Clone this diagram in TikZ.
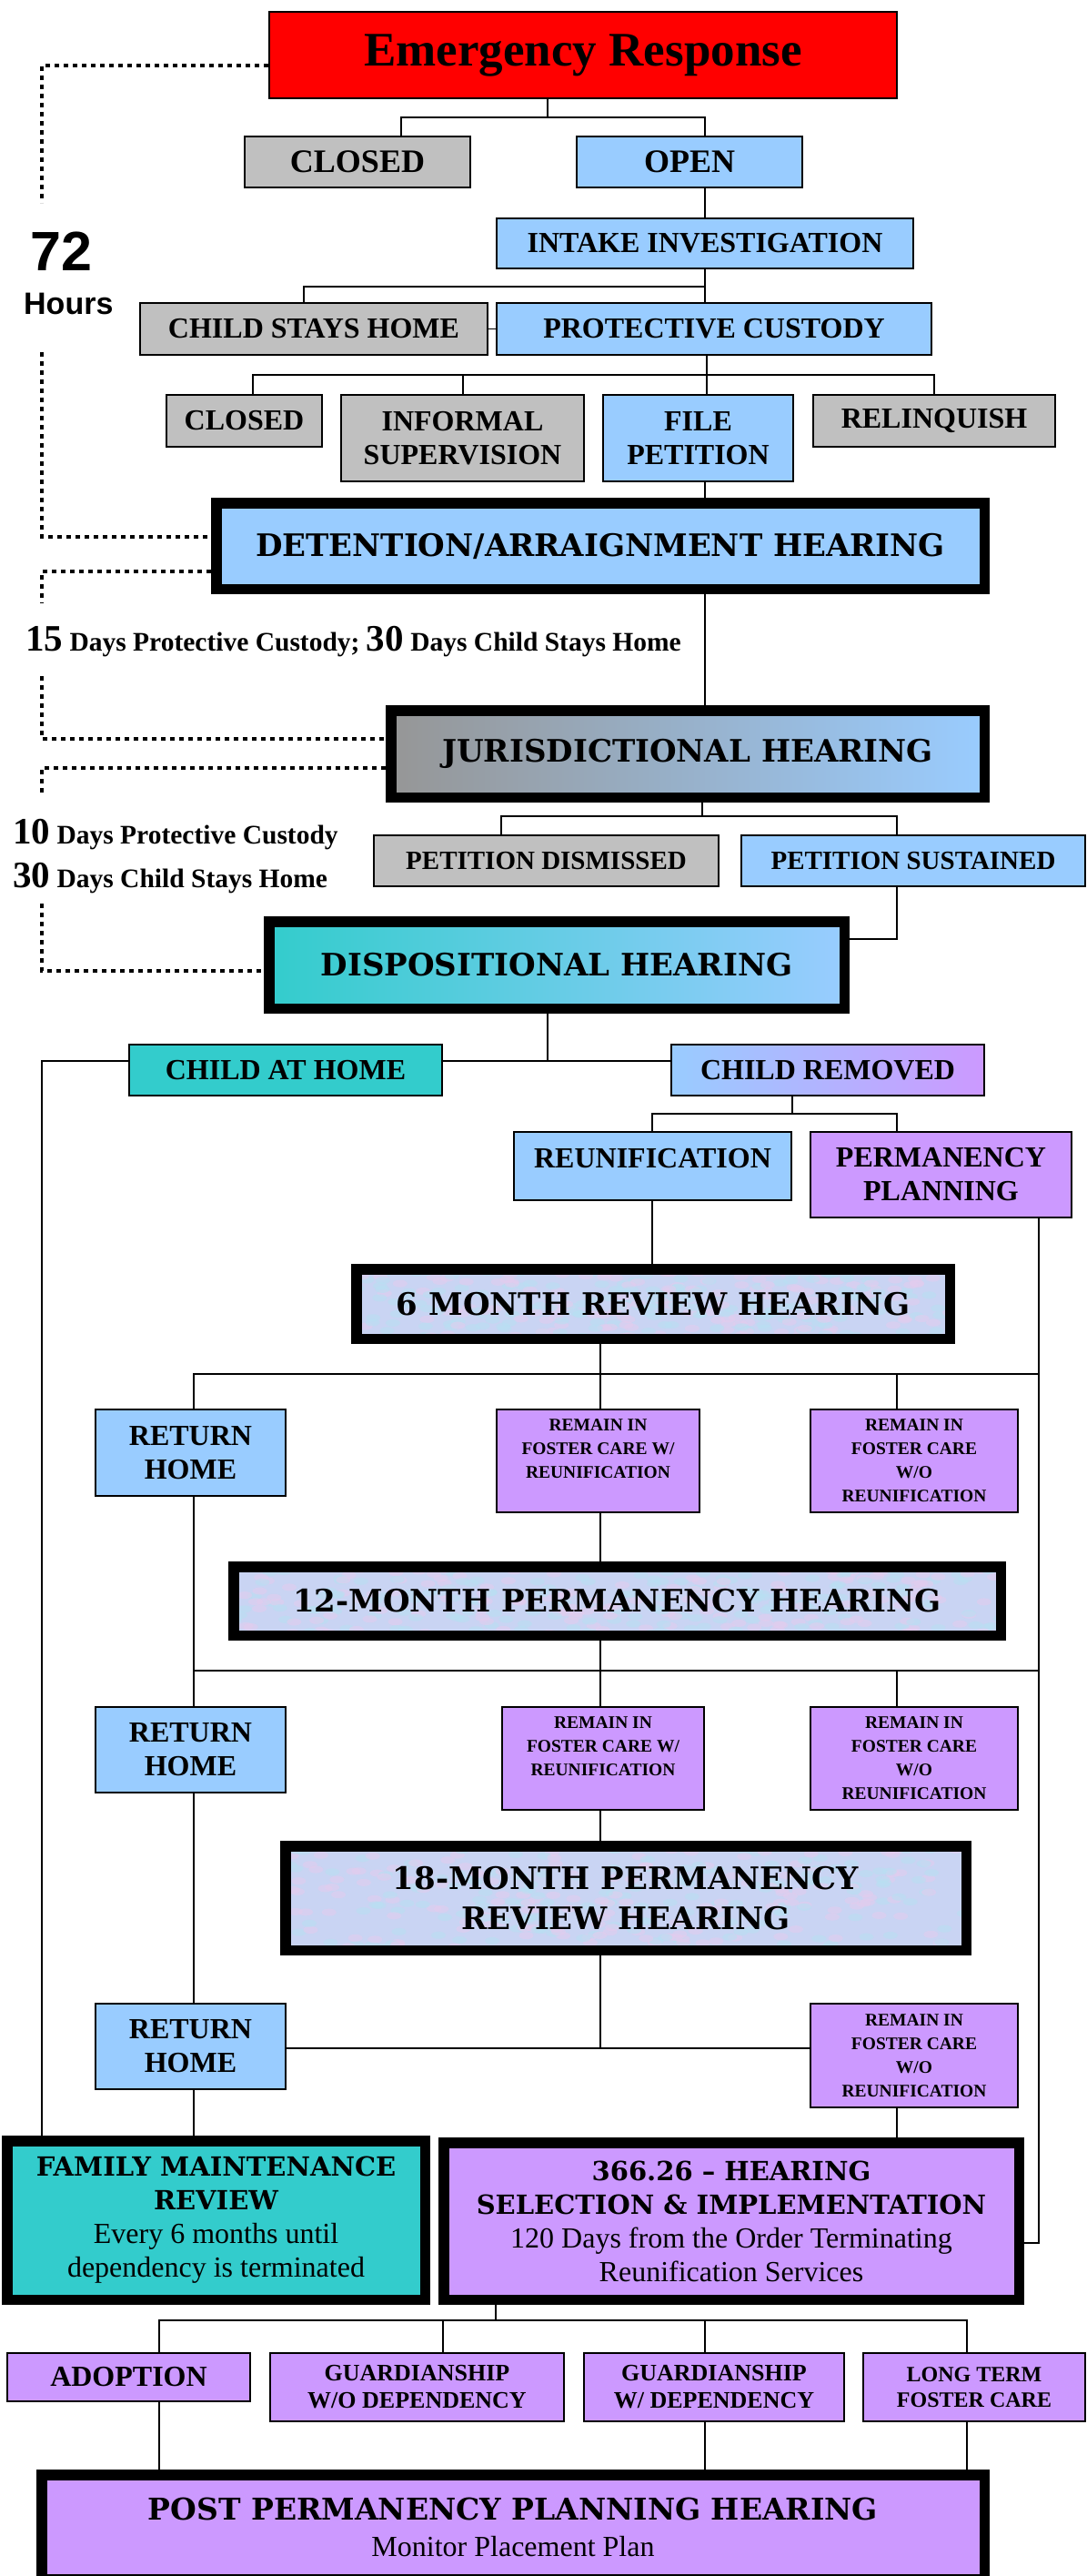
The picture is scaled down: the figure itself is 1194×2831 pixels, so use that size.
\documentclass[tikz,border=0pt]{standalone}
\usepackage{fontspec}
\setmainfont{Liberation Serif}
\newfontfamily\hfont{DejaVu Serif}
\newfontfamily\afont{Liberation Sans}
\usetikzlibrary{backgrounds}
\definecolor{cred}{HTML}{FF0000}
\definecolor{cgray}{HTML}{C0C0C0}
\definecolor{cblue}{HTML}{99CCFF}
\definecolor{cpurp}{HTML}{CC99FF}
\definecolor{cteal}{HTML}{33CCCC}
\definecolor{cdgray}{HTML}{969696}
\definecolor{cmot}{HTML}{C9D4F3}
\definecolor{cpink}{HTML}{E4CCEE}
\definecolor{ccyan}{HTML}{B8E0F2}
\newcommand\fs[2]{\fontsize{#1}{#2}\selectfont}
\tikzset{
  thinbox/.style={draw=black, line width=1.6pt, inner sep=0pt, align=center, font=\bfseries\fs{32}{37}},
  thickbox/.style={draw=black, line width=11.5pt, inner sep=0pt, align=center, font=\hfont\bfseries\fs{34}{44}},
  conn/.style={line width=1.5pt, black},
  dotl/.style={line width=4pt, dash pattern=on 5pt off 5pt, black},
  smalltxt/.style={font=\bfseries\fs{19.5}{26}},
  lbl/.style={inner sep=0pt, anchor=base west}
}
% name, extra style, x1, y1, x2, y2, text
\newcommand\sbx[7]{%
  \pgfmathsetmacro\bxcx{(#3+#5)/2}%
  \pgfmathsetmacro\bxcy{(#4+#6)/2}%
  \pgfmathsetmacro\bxw{#5-#3-1.6}%
  \pgfmathsetmacro\bxh{#6-#4-1.6}%
  \node[thinbox,#2,minimum width=\bxw pt,minimum height=\bxh pt] (#1) at (\bxcx,\bxcy) {#7};}
\newcommand\hbx[7]{%
  \pgfmathsetmacro\bxcx{(#3+#5)/2}%
  \pgfmathsetmacro\bxcy{(#4+#6)/2}%
  \pgfmathsetmacro\bxw{#5-#3-11.5}%
  \pgfmathsetmacro\bxh{#6-#4-11.5}%
  \node[thickbox,#2,minimum width=\bxw pt,minimum height=\bxh pt] (#1) at (\bxcx,\bxcy) {#7};}
\newcommand\mottle[5]{%
  \begin{scope}
  \clip (#1,#2) rectangle (#3,#4);
  \fill[cmot] (#1,#2) rectangle (#3,#4);
  \pgfmathsetseed{#5}%
  \foreach \i in {1,...,320}{%
    \pgfmathsetmacro\mx{#1+rnd*(#3-#1)}%
    \pgfmathsetmacro\my{#2+rnd*(#4-#2)}%
    \pgfmathsetmacro\mc{rnd}%
    \ifdim\mc pt<0.5pt
      \fill[cpink,opacity=0.55] (\mx,\my) ellipse (8pt and 4pt);
    \else
      \fill[ccyan,opacity=0.55] (\mx,\my) ellipse (8pt and 4pt);
    \fi}
  \end{scope}}
\begin{document}
\begin{tikzpicture}[x=1pt,y=-1pt]
\useasboundingbox (0,0) rectangle (1194,2831);
\begin{pgfonlayer}{background}
\fill[white] (0,0) rectangle (1194,2831);
\end{pgfonlayer}

% ---- boxes ----
\sbx{er}{fill=cred,font=\bfseries\fs{53}{60}}{295}{12}{987}{109}{Emergency Response}
\sbx{closedA}{fill=cgray,font=\bfseries\fs{36}{40}}{268}{149}{518}{207}{CLOSED}
\sbx{open}{fill=cblue,font=\bfseries\fs{36}{40}}{633}{149}{883}{207}{OPEN}
\sbx{intake}{fill=cblue}{545}{239}{1005}{296}{INTAKE INVESTIGATION}
\sbx{csh}{fill=cgray}{153}{332}{537}{391}{CHILD STAYS HOME}
\sbx{pc}{fill=cblue}{545}{332}{1025}{391}{PROTECTIVE CUSTODY}
\sbx{closedB}{fill=cgray}{182}{433}{355}{492}{CLOSED}
\sbx{inf}{fill=cgray}{374}{433}{643}{530}{INFORMAL\\SUPERVISION}
\sbx{fp}{fill=cblue}{662}{433}{873}{530}{FILE\\PETITION}
\sbx{rel}{fill=cgray}{893}{433}{1161}{492}{RELINQUISH}
\hbx{det}{fill=cblue}{232}{547}{1088}{653}{DETENTION/ARRAIGNMENT HEARING}
\hbx{jh}{left color=cdgray,right color=cblue}{424}{775}{1088}{882}{JURISDICTIONAL HEARING}
\sbx{pd}{fill=cgray,font=\bfseries\fs{29}{34}}{410}{917}{791}{975}{PETITION DISMISSED}
\sbx{ps}{fill=cblue,font=\bfseries\fs{29}{34}}{814}{917}{1194}{975}{PETITION SUSTAINED}
\hbx{dh}{left color=cteal,right color=cblue}{290}{1007}{934}{1114}{DISPOSITIONAL HEARING}
\sbx{cah}{fill=cteal}{141}{1147}{487}{1205}{CHILD AT HOME}
\sbx{cr}{left color=cblue,right color=cpurp}{737}{1147}{1083}{1205}{CHILD REMOVED}
\sbx{reun}{fill=cblue,text depth=18pt}{564}{1243}{871}{1320}{REUNIFICATION}
\sbx{pp}{fill=cpurp}{890}{1243}{1179}{1339}{PERMANENCY\\PLANNING}
\mottle{392}{1395}{1044}{1471}{3}
\hbx{m6}{}{386}{1389}{1050}{1477}{6 MONTH REVIEW HEARING}
\sbx{rh1}{fill=cblue}{104}{1548}{315}{1645}{RETURN\\HOME}
\sbx{rw1}{fill=cpurp,smalltxt}{545}{1548}{770}{1663}{REMAIN IN\\FOSTER CARE W/\\REUNIFICATION\\\mbox{}}
\sbx{rwo1}{fill=cpurp,smalltxt}{890}{1548}{1120}{1663}{REMAIN IN\\FOSTER CARE\\W/O\\REUNIFICATION}
\mottle{257}{1722}{1100}{1797}{5}
\hbx{m12}{}{251}{1716}{1106}{1803}{12-MONTH PERMANENCY HEARING}
\sbx{rh2}{fill=cblue}{104}{1875}{315}{1971}{RETURN\\HOME}
\sbx{rw2}{fill=cpurp,smalltxt}{551}{1875}{775}{1990}{REMAIN IN\\FOSTER CARE W/\\REUNIFICATION\\\mbox{}}
\sbx{rwo2}{fill=cpurp,smalltxt}{890}{1875}{1120}{1990}{REMAIN IN\\FOSTER CARE\\W/O\\REUNIFICATION}
\mottle{314}{2029}{1062}{2143}{9}
\hbx{m18}{}{308}{2023}{1068}{2149}{18-MONTH PERMANENCY\\REVIEW HEARING}
\sbx{rh3}{fill=cblue}{104}{2201}{315}{2297}{RETURN\\HOME}
\sbx{rwo3}{fill=cpurp,smalltxt}{890}{2201}{1120}{2317}{REMAIN IN\\FOSTER CARE\\W/O\\REUNIFICATION}
\hbx{fm}{fill=cteal,font=\hfont\bfseries\fs{29}{37}}{2}{2347}{473}{2533}{FAMILY MAINTENANCE\\REVIEW\\{\normalfont\fs{32}{37}Every 6 months until}\\{\normalfont\fs{32}{37}dependency is terminated}}
\hbx{h366}{fill=cpurp,font=\hfont\bfseries\fs{29}{37}}{482}{2349}{1126}{2533}{366.26 – HEARING\\SELECTION \& IMPLEMENTATION\\{\normalfont\fs{32}{37}120 Days from the Order Terminating}\\{\normalfont\fs{32}{37}Reunification Services}}
\sbx{adopt}{fill=cpurp}{7}{2585}{276}{2640}{ADOPTION}
\sbx{gwo}{fill=cpurp,font=\bfseries\fs{26}{30}}{296}{2585}{621}{2662}{GUARDIANSHIP\\W/O DEPENDENCY}
\sbx{gw}{fill=cpurp,font=\bfseries\fs{26}{30}}{641}{2585}{929}{2662}{GUARDIANSHIP\\W/ DEPENDENCY}
\sbx{ltfc}{fill=cpurp,font=\bfseries\fs{24}{28}}{948}{2585}{1194}{2662}{LONG TERM\\FOSTER CARE}
\hbx{post}{fill=cpurp,font=\hfont\bfseries\fs{33}{40}}{40}{2714}{1088}{2840}{POST PERMANENCY PLANNING HEARING\\{\normalfont\fs{32}{40}Monitor Placement Plan}}

% ---- connectors ----
\begin{pgfonlayer}{background}
\coordinate (b1) at (602,129); \coordinate (b1l) at (441,129); \coordinate (b1r) at (775,129);
\draw[conn] (b1 |- er.south) -- (b1);
\draw[conn] (b1l |- closedA.north) -- (b1l) -- (b1r) -- (b1r |- open.north);
\draw[conn] (b1r |- open.south) -- (b1r |- intake.north);
\coordinate (b2) at (775,315); \coordinate (b2l) at (334,315);
\draw[conn] (b2 |- intake.south) -- (b2) -- (b2l) -- (b2l |- csh.north);
\draw[conn] (b2) -- (b2 |- pc.north);
\draw[conn] (csh.east) -- (pc.west);
\coordinate (b3) at (777,412); \coordinate (b3a) at (278,412); \coordinate (b3b) at (509,412); \coordinate (b3d) at (1027,412);
\draw[conn] (b3 |- pc.south) -- (b3 |- fp.north);
\draw[conn] (b3a |- closedB.north) -- (b3a) -- (b3d) -- (b3d |- rel.north);
\draw[conn] (b3b) -- (b3b |- inf.north);
\coordinate (c1) at (775,600);
\draw[conn] (c1 |- fp.south) -- (c1 |- det.north);
\draw[conn] (c1 |- det.south) -- (c1 |- jh.north);
\coordinate (b4) at (772,897); \coordinate (b4l) at (551,897); \coordinate (b4r) at (986,897);
\draw[conn] (b4 |- jh.south) -- (b4);
\draw[conn] (b4l |- pd.north) -- (b4l) -- (b4r) -- (b4r |- ps.north);
\coordinate (b5) at (986,1032);
\draw[conn] (b5 |- ps.south) -- (b5) -- (b5 -| dh.east);
\coordinate (b6) at (602,1166); \coordinate (b6l) at (46,1166);
\draw[conn] (b6 |- dh.south) -- (b6) -- (b6 -| cr.west);
\draw[conn] (b6) -- (b6 -| cah.east);
\draw[conn] (b6 -| cah.west) -- (b6l) -- (b6l |- fm.north);
\coordinate (b7) at (871,1224); \coordinate (b7l) at (717,1224); \coordinate (b7r) at (986,1224);
\draw[conn] (b7 |- cr.south) -- (b7);
\draw[conn] (b7l |- reun.north) -- (b7l) -- (b7r) -- (b7r |- pp.north);
\draw[conn] (b7l |- reun.south) -- (b7l |- m6.north);
\coordinate (pr) at (1142,2465);
\draw[conn] (pr |- pp.south) -- (pr) -- (pr -| h366.east);
\coordinate (b8) at (660,1510); \coordinate (b8l) at (213,1510); \coordinate (b8r) at (1142,1510); \coordinate (b8c) at (986,1510);
\draw[conn] (b8 |- m6.south) -- (b8 |- rw1.north);
\draw[conn] (b8l |- rh1.north) -- (b8l) -- (b8r);
\draw[conn] (b8c) -- (b8c |- rwo1.north);
\draw[conn] (b8 |- rw1.south) -- (b8 |- m12.north);
\draw[conn] (b8l |- rh1.south) -- (b8l |- rh2.north);
\coordinate (b9) at (660,1836); \coordinate (b9l) at (213,1836); \coordinate (b9r) at (1142,1836); \coordinate (b9c) at (986,1836);
\draw[conn] (b9 |- m12.south) -- (b9 |- rw2.north);
\draw[conn] (b9l) -- (b9r);
\draw[conn] (b9c) -- (b9c |- rwo2.north);
\draw[conn] (b9 |- rw2.south) -- (b9 |- m18.north);
\draw[conn] (b9l |- rh2.south) -- (b9l |- rh3.north);
\coordinate (b10) at (660,2251);
\draw[conn] (b10 |- m18.south) -- (b10);
\draw[conn] (b10 -| rh3.east) -- (b10 -| rwo3.west);
\draw[conn] (b9l |- rh3.south) -- (b9l |- fm.north);
\draw[conn] (b9c |- rwo3.south) -- (b9c |- h366.north);
\coordinate (b11) at (545,2550); \coordinate (b11a) at (175,2550); \coordinate (b11b) at (487,2550); \coordinate (b11c) at (775,2550); \coordinate (b11d) at (1063,2550);
\draw[conn] (b11 |- h366.south) -- (b11);
\draw[conn] (b11a |- adopt.north) -- (b11a) -- (b11d) -- (b11d |- ltfc.north);
\draw[conn] (b11b) -- (b11b |- gwo.north);
\draw[conn] (b11c) -- (b11c |- gw.north);
\draw[conn] (b11a |- adopt.south) -- (b11a |- post.north);
\draw[conn] (b11c |- gw.south) -- (b11c |- post.north);
\draw[conn] (b11d |- ltfc.south) -- (b11d |- post.north);
\end{pgfonlayer}

% ---- dotted time lines ----
\coordinate (d1) at (46,72); \coordinate (d1e) at (46,223);
\draw[dotl] (d1 -| er.west) -- (d1) -- (d1e);
\coordinate (d2s) at (46,387); \coordinate (d2) at (46,590);
\draw[dotl] (d2s) -- (d2) -- (d2 -| det.west);
\coordinate (d3) at (46,628); \coordinate (d3e) at (46,663);
\draw[dotl] (d3 -| det.west) -- (d3) -- (d3e);
\coordinate (d4s) at (46,743); \coordinate (d4) at (46,812);
\draw[dotl] (d4s) -- (d4) -- (d4 -| jh.west);
\coordinate (d5) at (46,844); \coordinate (d5e) at (46,871);
\draw[dotl] (d5 -| jh.west) -- (d5) -- (d5e);
\coordinate (d6s) at (46,993); \coordinate (d6) at (46,1067);
\draw[dotl] (d6s) -- (d6) -- (d6 -| dh.west);

% ---- time labels ----
\node[lbl,font=\afont\bfseries\fs{61}{61}] (t72) at (33,297) {72};
\node[lbl,font=\afont\bfseries\fs{34}{34}] (thours) at (26,345) {Hours};
\node[lbl,font=\bfseries\fs{29.5}{34}] (t15) at (28,715) {{\fs{41}{41}15} Days Protective Custody; {\fs{41}{41}30} Days Child Stays Home};
\node[lbl,font=\bfseries\fs{29.5}{34}] (t10) at (14,927) {{\fs{41}{41}10} Days Protective Custody};
\node[lbl,font=\bfseries\fs{29.5}{34}] (t30) at (14,975) {{\fs{41}{41}30} Days Child Stays Home};
\end{tikzpicture}
\end{document}
